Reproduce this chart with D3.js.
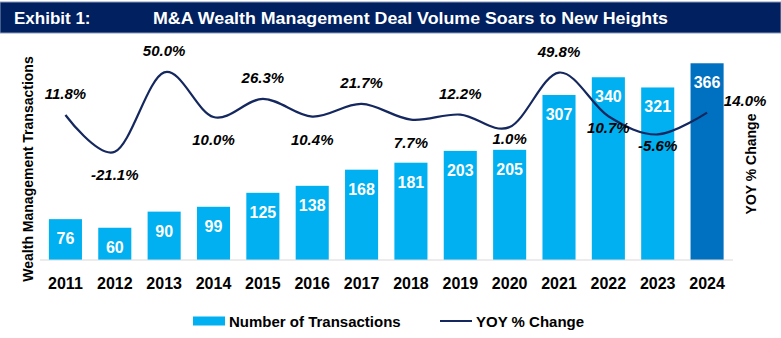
<!DOCTYPE html>
<html>
<head>
<meta charset="utf-8">
<script src="https://cdn.jsdelivr.net/npm/d3@7/dist/d3.min.js"></script>
<style>
  html, body { margin: 0; padding: 0; background: #ffffff; }
  svg { display: block; font-family: "Liberation Sans", Arial, sans-serif; }
</style>
</head>
<body>
<div id="chart"></div>
<script>
const years = ["2011","2012","2013","2014","2015","2016","2017","2018","2019","2020","2021","2022","2023","2024"];
const transactions = [76, 60, 90, 99, 125, 138, 168, 181, 203, 205, 307, 340, 321, 366];
const yoyChange = [11.8, -21.1, 50.0, 10.0, 26.3, 10.4, 21.7, 7.7, 12.2, 1.0, 49.8, 10.7, -5.6, 14.0];
const labelPlacement = ["above","below","above","below","above","below","above","below","above","below","above","below","below","right"];
const titleLeft = "Exhibit 1:";
const titleMain = "M&A Wealth Management Deal Volume Soars to New Heights";
const seriesNames = ["Number of Transactions", "YOY % Change"];
const leftAxisTitle = "Wealth Management Transactions";
const rightAxisTitle = "YOY % Change";

const W = 781, H = 338;
const svg = d3.select("#chart").append("svg").attr("width", W).attr("height", H);

// Title bar
svg.append("rect").attr("x", 0).attr("y", 2).attr("width", W).attr("height", 31)
  .attr("fill", "#002060").attr("stroke", "#8a9ab8").attr("stroke-width", 1);
svg.append("text").attr("x", 14).attr("y", 23.5).attr("fill", "#fff")
  .attr("font-size", 17).attr("font-weight", "bold").text(titleLeft);
svg.append("text").attr("x", 153).attr("y", 23.5).attr("fill", "#fff")
  .attr("font-size", 17).attr("font-weight", "bold")
  .attr("textLength", 515).attr("lengthAdjust", "spacingAndGlyphs").text(titleMain);

const plot = { left: 40, right: 733, top: 45, bottom: 260 };

const x = d3.scaleBand().domain(years)
  .range([40.5, 732]).paddingInner(0.33).paddingOuter(0.17);
const y = d3.scaleLinear().domain([0, 400]).range([plot.bottom, plot.top]);
const y2 = d3.scaleLinear().domain([-118, 74.5]).range([plot.bottom, plot.top]);

// Bars
const data = years.map((yr, i) => ({ yr, n: transactions[i], p: yoyChange[i], place: labelPlacement[i], i }));
svg.append("g").selectAll("rect").data(data).join("rect")
  .attr("x", d => x(d.yr))
  .attr("y", d => y(d.n))
  .attr("width", x.bandwidth())
  .attr("height", d => y(0) - y(d.n))
  .attr("fill", (d, i) => i === years.length - 1 ? "#0070c0" : "#00b0f0");

// Baseline axis
const xAxis = d3.axisBottom(x).tickSize(0).tickPadding(18);
const gx = svg.append("g").attr("transform", `translate(0,${plot.bottom})`).call(xAxis);
gx.select(".domain").attr("stroke", "#d9d9d9").attr("stroke-width", 1.2).attr("d", `M${plot.left},0H${plot.right}`);
gx.selectAll("text").attr("font-size", 16).attr("font-weight", "bold").attr("fill", "#000")
  .attr("font-family", "'Liberation Sans', Arial, sans-serif");

// Bar value labels
svg.append("g").selectAll("text").data(data).join("text")
  .attr("x", d => x(d.yr) + x.bandwidth() / 2)
  .attr("y", d => y(d.n) + 25)
  .attr("text-anchor", "middle").attr("fill", "#fff")
  .attr("font-size", 16).attr("font-weight", "bold")
  .text(d => d.n);

// YOY line
const line = d3.line()
  .x(d => x(d.yr) + x.bandwidth() / 2)
  .y(d => y2(d.p))
  .curve(d3.curveCardinal.tension(0));
svg.append("path").datum(data).attr("d", line)
  .attr("fill", "none").attr("stroke", "#14275e").attr("stroke-width", 2.2);

// YOY labels
svg.append("g").selectAll("text").data(data).join("text")
  .attr("x", d => x(d.yr) + x.bandwidth() / 2 + (d.place === "right" ? 38 : 0))
  .attr("y", d => {
    const py = y2(d.p);
    if (d.place === "above") return py - 16;
    if (d.place === "right") return py - 7;
    return py + (d.i >= 9 ? 17 : 28);
  })
  .attr("text-anchor", "middle").attr("fill", "#000")
  .attr("font-size", 15).attr("font-weight", "bold").attr("font-style", "italic")
  .text(d => d.p.toFixed(1) + "%");

// Axis titles
svg.append("text").attr("transform", `translate(33,169) rotate(-90)`)
  .attr("text-anchor", "middle").attr("font-size", 14).attr("font-weight", "bold").attr("fill", "#000")
  .text(leftAxisTitle);
svg.append("text").attr("transform", `translate(756,164) rotate(-90)`)
  .attr("text-anchor", "middle").attr("font-size", 14).attr("font-weight", "bold").attr("fill", "#000")
  .text(rightAxisTitle);

// Legend
const lg = svg.append("g");
lg.append("rect").attr("x", 193).attr("y", 316.5).attr("width", 32).attr("height", 9).attr("fill", "#00b0f0");
lg.append("text").attr("x", 229).attr("y", 326.5).attr("font-size", 15).attr("font-weight", "bold").attr("fill", "#000")
  .text(seriesNames[0]);
lg.append("line").attr("x1", 440).attr("x2", 472).attr("y1", 321).attr("y2", 321)
  .attr("stroke", "#14275e").attr("stroke-width", 2);
lg.append("text").attr("x", 476).attr("y", 326.5).attr("font-size", 15).attr("font-weight", "bold").attr("fill", "#000")
  .text(seriesNames[1]);
</script>
</body>
</html>
